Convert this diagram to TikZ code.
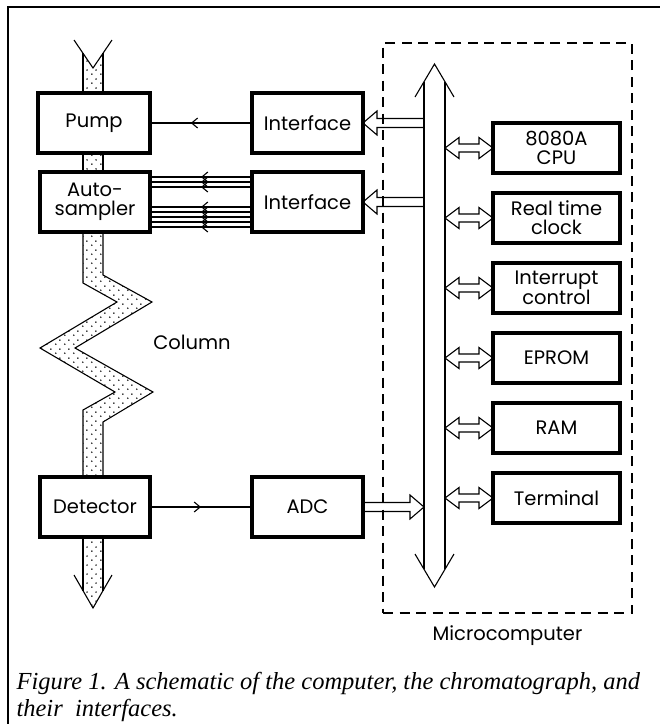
\documentclass[tikz,border=0pt]{standalone}
\usepackage{fontspec}
\setmainfont{Poppins}
\newfontfamily\capfont{Liberation Serif}
\usetikzlibrary{positioning,calc,patterns,decorations.markings,arrows.meta}

\pgfdeclarepatternformonly{sparsedots}{\pgfqpoint{0pt}{0pt}}{\pgfqpoint{9pt}{9pt}}{\pgfqpoint{9pt}{9pt}}{%
  \pgfpathcircle{\pgfqpoint{2pt}{2pt}}{0.9pt}%
  \pgfpathcircle{\pgfqpoint{6.5pt}{6.5pt}}{0.9pt}%
  \pgfusepath{fill}}

\tikzset{
  wire/.style={line width=1.1pt},
  unit/.style={draw, line width=3.2pt, outer sep=0pt, inner sep=1pt, align=center,
    minimum width=111pt, minimum height=60pt, font=\fontsize{19.5}{19}\selectfont},
  memory/.style={unit, minimum width=127pt, minimum height=50pt},
  lbl/.style={font=\fontsize{19.5}{19}\selectfont},
  midarrow/.style={decoration={markings, mark=at position #1 with {\arrow{Straight Barb[length=6pt,width=10pt]}}}, postaction={decorate}},
  midarrow/.default=0.55
}

\begin{document}
\begin{tikzpicture}[x=1pt, y=-1pt, node distance=20pt]
    \useasboundingbox (0,0) rectangle (660,724);
    \draw[wire] (660,7) -- (8,7) -- (8,724);

    % column, with the dotted packing
    \fill[pattern=sparsedots] (83,53.3) -- (93,68) -- (103,53.3) -- (103,93) -- (83,93) -- cycle;
    \fill[pattern=sparsedots] (83,153) rectangle (103,173);
    \fill[pattern=sparsedots] (83,233) -- (83,283) -- (117,302) -- (40,348) -- (115,392) -- (83,410) -- (83,477)
        -- (103,477) -- (103,422) -- (153,392) -- (75,348) -- (152,302) -- (103,275) -- (103,233) -- cycle;
    \fill[pattern=sparsedots] (83,538) -- (83,590.6) -- (93,608) -- (103,590.6) -- (103,538) -- cycle;
    \draw[wire] (74,40) -- (93,68) -- (112,40);
    \draw[wire] (83,53.3) -- (83,93) (103,53.3) -- (103,93);
    \draw[wire] (83,153) -- (83,173) (103,153) -- (103,173);
    \draw[wire] (83,233) -- (83,283) -- (117,302) -- (40,348) -- (115,392) -- (83,410) -- (83,477);
    \draw[wire] (103,233) -- (103,275) -- (152,302) -- (75,348) -- (153,392) -- (103,422) -- (103,477);
    \draw[wire] (83,538) -- (83,590.6) (103,538) -- (103,590.6);
    \draw[wire] (74,575) -- (93,608) -- (112,575);
    \node[lbl] (column) at (192,342) {Column};

    % chromatograph
    \node[unit, minimum width=112pt] (pump) at (94,123) {Pump};
    \node[unit, minimum width=110pt] (auto) at (95,202) {Auto-\\sampler};
    \node[unit, minimum width=110pt] (det) at (95,507) {Detector};

    % interfaces
    \node[unit] (if1) at (307.5,123) {Interface};
    \node[unit] (if2) at (307.5,202) {Interface};
    \node[unit] (adc) at (307.5,507) {ADC};

    \draw[wire, midarrow=0.6] (if1.west) -- (pump.east);
    \foreach \dy in {-25,-20,-15,5,10,15,20,25}
        \draw[wire, midarrow=0.5] ($(if2.west)+(0,\dy)$) -- ($(auto.east)+(0,\dy)$);
    \draw[wire, midarrow=0.5] (det.east) -- (adc.west);

    % microcomputer
    \node[draw, dashed, dash pattern=on 10pt off 6.5pt, line width=1.1pt, minimum width=249pt, minimum height=570pt] (micro) at (507.5,328) {};
    \node[lbl, below=9pt of micro.south] (microlbl) {Microcomputer};

    \node[memory] (cpu) at (556.5,148) {8080A\\CPU};
    \node[memory, below=of cpu] (rtc) {Real time\\clock};
    \node[memory, below=of rtc] (irq) {Interrupt\\control};
    \node[memory, below=of irq] (eprom) {EPROM};
    \node[memory, below=of eprom] (ram) {RAM};
    \node[memory, below=of ram] (term) {Terminal};

    % bus
    \coordinate (bustop) at (434.5,64);
    \coordinate (busbot) at (434.5,587);
    \draw[wire] ($(bustop)+(-19.5,33)$) -- (bustop) -- ++(19.5,33);
    \draw[wire] ($(bustop)+(-10.5,18)$) -- ($(busbot)+(-10.5,-18)$);
    \draw[wire] ($(bustop)+(10.5,18)$) -- ($(busbot)+(10.5,-18)$);
    \draw[wire] ($(busbot)+(-19.5,-33)$) -- (busbot) -- ++(19.5,-33);

    \foreach \i in {if1,if2}
        \draw[wire] ($(\i.east)+(61,-4.5)$) -- ++(-47,0) -- ++(0,-7.5) -- (\i.east) -- ++(14,12) -- ++(0,-7.5) -- ++(47,0);
    \draw[wire] ($(adc.east)+(0,-4.5)$) -- ++(47,0) -- ++(0,-7.5) -- ++(14,12) -- ++(-14,12) -- ++(0,-7.5) -- ++(-47,0);
    \foreach \b in {cpu,rtc,irq,eprom,ram,term}
        \draw[wire] (\b.west) -- ++(-14,-10.5) -- ++(0,6.5) -- ++(-20,0) -- ++(0,-6.5) -- ++(-14,10.5)
            -- ++(14,10.5) -- ++(0,-6.5) -- ++(20,0) -- ++(0,6.5) -- cycle;

    % caption
    \node[anchor=base west, font=\capfont\itshape\fontsize{24.5}{27}\selectfont] (cap1) at (13,689)
        {Figure 1. A schematic of the computer, the chromatograph, and};
    \node[anchor=base west, font=\capfont\itshape\fontsize{24.5}{27}\selectfont] (cap2) at (13,716)
        {their\ \ interfaces.};
\end{tikzpicture}
\end{document}
